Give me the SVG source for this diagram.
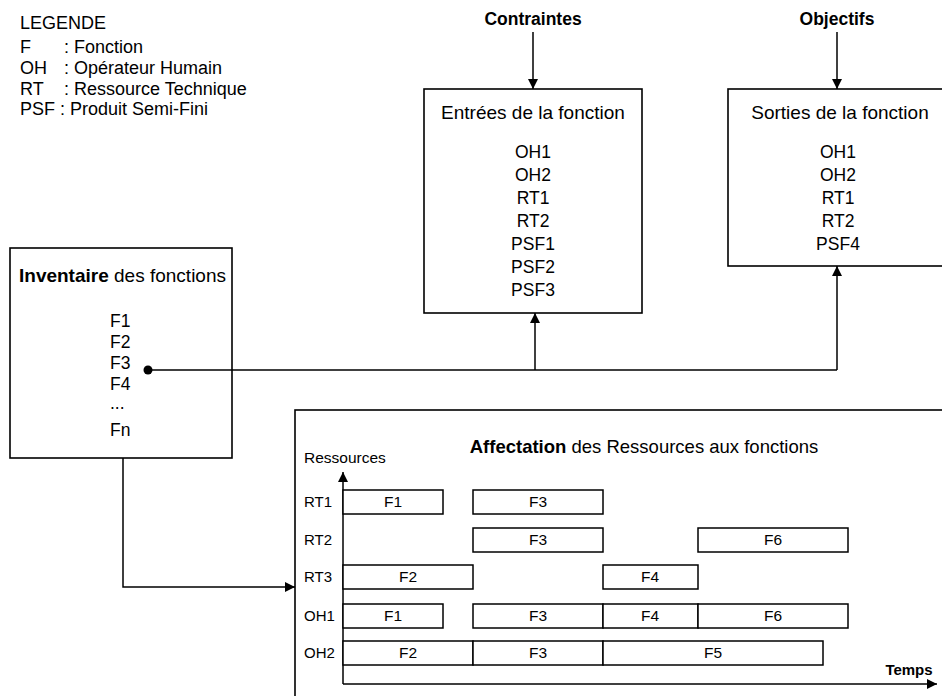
<svg xmlns="http://www.w3.org/2000/svg" width="942" height="696" viewBox="0 0 942 696">
<defs>
<marker id="ah" markerUnits="userSpaceOnUse" markerWidth="10" markerHeight="10" refX="10" refY="5" orient="auto">
<path d="M0,0 L10,5 L0,10 z" fill="#000"/>
</marker>
<style>
text{font-family:"Liberation Sans",Arial,sans-serif;fill:#000}
.lg{font-size:18px}
.hd{font-size:17.5px;font-weight:bold;text-anchor:middle}
.tt{font-size:19px;text-anchor:middle}
.it{font-size:17.5px;text-anchor:middle}
.iv{font-size:17.5px}
.gl{font-size:15px}
.bl{font-size:15.5px;text-anchor:middle}
.box{fill:#fff;stroke:#000;stroke-width:1.6}
.bar{fill:#fff;stroke:#000;stroke-width:1.5}
.ln{fill:none;stroke:#000;stroke-width:1.5}
</style>
</defs>
<rect width="942" height="696" fill="#fff"/>

<g id="legende">
<text class="lg" x="20" y="29">LEGENDE</text>
<text class="lg" x="20" y="53">F</text><text class="lg" x="64" y="53">: Fonction</text>
<text class="lg" x="20" y="74">OH</text><text class="lg" x="64" y="74">: Opérateur Humain</text>
<text class="lg" x="20" y="95">RT</text><text class="lg" x="64" y="95">: Ressource Technique</text>
<text class="lg" x="20" y="115">PSF : Produit Semi-Fini</text>
</g>

<g id="contraintes"><text class="hd" x="533" y="25">Contraintes</text></g>
<g id="objectifs"><text class="hd" x="837" y="25">Objectifs</text></g>

<g id="entrees">
<rect class="box" x="424" y="89" width="218" height="224"/>
<text class="tt" x="533" y="119">Entrées de la fonction</text>
<text class="it" x="533" y="158">OH1</text>
<text class="it" x="533" y="181">OH2</text>
<text class="it" x="533" y="204">RT1</text>
<text class="it" x="533" y="227">RT2</text>
<text class="it" x="533" y="250">PSF1</text>
<text class="it" x="533" y="273">PSF2</text>
<text class="it" x="533" y="296">PSF3</text>
</g>

<g id="sorties">
<rect class="box" x="728" y="89" width="230" height="177"/>
<text class="tt" x="840" y="119">Sorties de la fonction</text>
<text class="it" x="838" y="158">OH1</text>
<text class="it" x="838" y="181">OH2</text>
<text class="it" x="838" y="204">RT1</text>
<text class="it" x="838" y="227">RT2</text>
<text class="it" x="838" y="250">PSF4</text>
</g>

<g id="inventaire">
<rect class="box" x="10" y="248" width="222" height="210"/>
<text x="19" y="282" style="font-size:19px"><tspan font-weight="bold">Inventaire</tspan> des fonctions</text>
<text class="iv" x="110" y="327">F1</text>
<text class="iv" x="110" y="348">F2</text>
<text class="iv" x="110" y="369">F3</text>
<text class="iv" x="110" y="390">F4</text>
<text class="iv" x="110" y="409">...</text>
<text class="iv" x="110" y="436">Fn</text>
</g>

<g id="affectation">
<rect class="box" x="295" y="410" width="700" height="320"/>
<text x="644" y="453" style="font-size:18.5px;text-anchor:middle"><tspan font-weight="bold">Affectation</tspan> des Ressources aux fonctions</text>
<text x="304" y="463" style="font-size:15.5px">Ressources</text>
<text class="gl" x="304" y="507">RT1</text>
<text class="gl" x="304" y="545">RT2</text>
<text class="gl" x="304" y="582">RT3</text>
<text class="gl" x="304" y="621">OH1</text>
<text class="gl" x="304" y="658">OH2</text>
<text x="909" y="675" style="font-size:15px;font-weight:bold;text-anchor:middle">Temps</text>
<path class="ln" d="M343,684 L343,472" marker-end="url(#ah)"/>
<path class="ln" d="M343,684 L937,684" marker-end="url(#ah)"/>
<g id="rt1">
<rect class="bar" x="343" y="490" width="100" height="24"/><text class="bl" x="393" y="507">F1</text>
<rect class="bar" x="473" y="490" width="130" height="24"/><text class="bl" x="538" y="507">F3</text>
</g>
<g id="rt2">
<rect class="bar" x="473" y="528" width="130" height="24"/><text class="bl" x="538" y="545">F3</text>
<rect class="bar" x="698" y="528" width="150" height="24"/><text class="bl" x="773" y="545">F6</text>
</g>
<g id="rt3">
<rect class="bar" x="343" y="565" width="130" height="24"/><text class="bl" x="408" y="582">F2</text>
<rect class="bar" x="603" y="565" width="95" height="24"/><text class="bl" x="650" y="582">F4</text>
</g>
<g id="oh1">
<rect class="bar" x="343" y="604" width="100" height="24"/><text class="bl" x="393" y="621">F1</text>
<rect class="bar" x="473" y="604" width="130" height="24"/><text class="bl" x="538" y="621">F3</text>
<rect class="bar" x="603" y="604" width="95" height="24"/><text class="bl" x="650" y="621">F4</text>
<rect class="bar" x="698" y="604" width="150" height="24"/><text class="bl" x="773" y="621">F6</text>
</g>
<g id="oh2">
<rect class="bar" x="343" y="641" width="130" height="24"/><text class="bl" x="408" y="658">F2</text>
<rect class="bar" x="473" y="641" width="130" height="24"/><text class="bl" x="538" y="658">F3</text>
<rect class="bar" x="603" y="641" width="220" height="24"/><text class="bl" x="713" y="658">F5</text>
</g>
</g>

<g id="connectors">
<path class="ln" d="M533,32 L533,89" marker-end="url(#ah)"/>
<path class="ln" d="M837,32 L837,89" marker-end="url(#ah)"/>
<circle cx="148" cy="370" r="4.5" fill="#000"/>
<path class="ln" d="M148,370 L837,370"/>
<path class="ln" d="M535,370 L535,313" marker-end="url(#ah)"/>
<path class="ln" d="M837,370 L837,266" marker-end="url(#ah)"/>
<path class="ln" d="M123,458 L123,587 L295,587" marker-end="url(#ah)"/>
</g>
</svg>
